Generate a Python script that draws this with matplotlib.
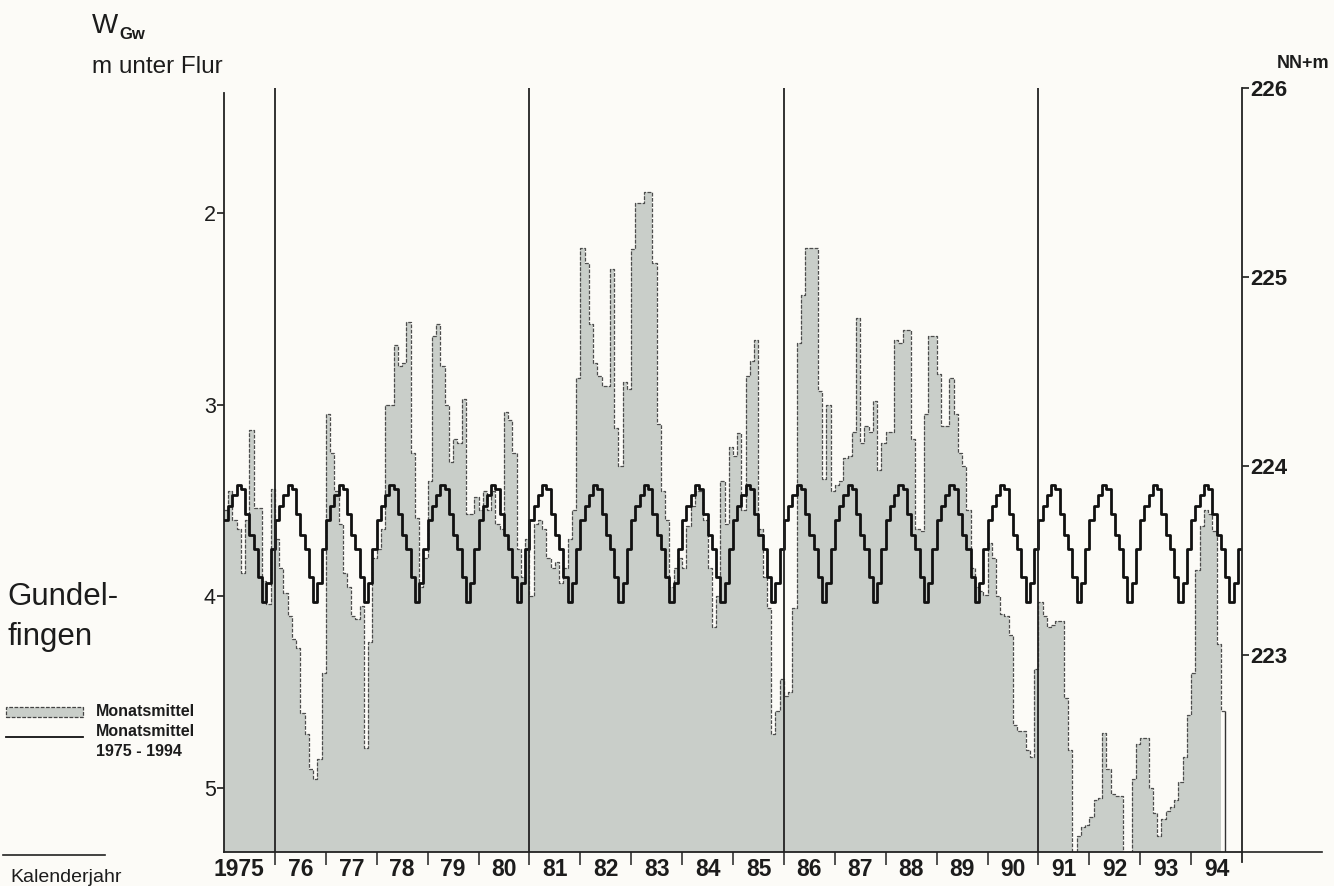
import numpy as np
import matplotlib.pyplot as plt
from matplotlib.lines import Line2D
from matplotlib.patches import Rectangle
import matplotlib.transforms as mtransforms

plt.rcParams['font.family'] = ['Liberation Sans', 'DejaVu Sans']

# Grundwasserstand Gundelfingen, Monatsmittel in m unter Flur (eine Zeile je Jahr)
years = np.arange(1975, 1995)
year_labels = ['1975'] + [str(y)[2:] for y in years[1:]]
nan = np.nan
monthly_depth = [
    [3.55, 3.45, 3.60, 3.65, 3.88, 3.60, 3.13, 3.54, 3.54, 3.92, 4.04, 3.44],  # 1975
    [3.70, 3.85, 3.98, 4.10, 4.22, 4.27, 4.61, 4.72, 4.90, 4.95, 4.85, 4.40],  # 1976
    [3.05, 3.25, 3.45, 3.62, 3.88, 3.95, 4.10, 4.12, 4.05, 4.79, 4.24, 3.80],  # 1977
    [3.75, 3.65, 3.00, 3.00, 2.69, 2.80, 2.78, 2.57, 3.25, 3.59, 3.95, 3.80],  # 1978
    [3.40, 2.64, 2.58, 2.80, 3.00, 3.30, 3.18, 3.20, 2.97, 3.57, 3.57, 3.48],  # 1979
    [3.55, 3.45, 3.55, 3.45, 3.62, 3.65, 3.04, 3.08, 3.25, 3.75, 3.90, 3.70],  # 1980
    [4.00, 3.62, 3.60, 3.65, 3.80, 3.85, 3.82, 3.93, 3.85, 3.70, 3.55, 2.86],  # 1981
    [2.18, 2.26, 2.58, 2.78, 2.85, 2.90, 2.90, 2.29, 3.12, 3.32, 2.88, 2.92],  # 1982
    [2.19, 1.95, 1.95, 1.89, 1.89, 2.26, 3.10, 3.45, 3.60, 3.95, 3.85, 3.80],  # 1983
    [3.85, 3.63, 3.53, 3.45, 3.45, 3.60, 3.85, 4.16, 4.00, 3.40, 3.62, 3.22],  # 1984
    [3.27, 3.15, 3.55, 2.85, 2.77, 2.66, 3.65, 3.90, 4.06, 4.72, 4.60, 4.43],  # 1985
    [4.52, 4.50, 4.06, 2.68, 2.43, 2.18, 2.18, 2.18, 2.93, 3.39, 3.00, 3.45],  # 1986
    [3.42, 3.40, 3.28, 3.27, 3.14, 2.55, 3.20, 3.11, 3.14, 2.98, 3.34, 3.20],  # 1987
    [3.14, 3.14, 2.66, 2.68, 2.61, 2.61, 3.18, 3.65, 3.66, 3.05, 2.64, 2.64],  # 1988
    [2.84, 3.11, 3.11, 2.86, 3.05, 3.25, 3.32, 3.55, 3.85, 3.95, 3.97, 3.99],  # 1989
    [3.72, 3.80, 4.00, 4.09, 4.10, 4.20, 4.67, 4.70, 4.70, 4.80, 4.84, 4.38],  # 1990
    [4.03, 4.10, 4.16, 4.15, 4.13, 4.13, 4.53, 4.80, 5.45, 5.25, 5.20, 5.19],  # 1991
    [5.15, 5.06, 5.05, 4.71, 4.90, 5.03, 5.04, 5.04, 5.45, 5.45, 4.95, 4.77],  # 1992
    [4.74, 4.74, 5.00, 5.13, 5.25, 5.16, 5.12, 5.10, 5.06, 4.97, 4.84, 4.62],  # 1993
    [4.40, 3.86, 3.63, 3.55, 3.57, 3.66, 4.25, 4.60, nan, nan, nan, nan],      # 1994
]
# langjaehriges Monatsmittel 1975 - 1994 (Jan..Dez)
seasonal_mean = [3.60, 3.53, 3.47, 3.42, 3.44, 3.57, 3.68, 3.75, 3.90, 4.03, 3.93, 3.75]
divider_years = [1976, 1981, 1986, 1991]
nn_ticks = [223, 224, 225, 226]
depth_ticks = [2, 3, 4, 5]

W, H = 1334, 886
bg = '#fcfbf7'
ink = '#1c1c1c'
fill_col = '#c9cec9'


def fx(x):
    return x / W


def fy(y):
    return 1 - y / H


fig = plt.figure(figsize=(W / 100, H / 100), dpi=100, facecolor=bg)
ax = fig.add_axes([fx(224), fy(852), (1242 - 224) / W, (852 - 88) / H])
ax.set_facecolor(bg)

vals = np.array(monthly_depth, dtype=float).ravel()
n = len(vals)
x_edges = years[0] + np.arange(n + 1) / 12.0
y_edges = np.append(vals, vals[-1])

y_bottom, y_top = 5.333, 1.348
ax.set_xlim(years[0], years[-1] + 1)
ax.set_ylim(y_bottom, y_top)

ax.fill_between(x_edges, y_edges, 7.0, step='post', color=fill_col, lw=0, zorder=1)
ax.step(x_edges, y_edges, where='post', color='#4d4d4d', lw=0.9,
        ls=(0, (3, 1.2)), zorder=2)
last = np.where(~np.isnan(vals))[0][-1]
ax.vlines(x_edges[last + 1], vals[last], 7.0, color='#333333', lw=1.0, zorder=2)

seas = np.tile(seasonal_mean, len(years))
ax.step(x_edges, np.append(seas, seas[-1]), where='post', color='#111111',
        lw=2.0, zorder=3)

for yr in divider_years:
    ax.axvline(yr, color='#222222', lw=1.3, zorder=4)

for s in ['top', 'right']:
    ax.spines[s].set_visible(False)
for s in ['left', 'bottom']:
    ax.spines[s].set_color('#222222')
    ax.spines[s].set_linewidth(1.3)
ax.spines['left'].set_bounds(y_bottom, 1.374)

ax.set_yticks(depth_ticks)
ax.set_yticklabels([str(t) for t in depth_ticks], fontsize=15.5, color=ink)
ax.tick_params(axis='y', direction='out', length=5, width=1.2, pad=1, colors=ink)

ax.set_xticks(years[1:])
ax.set_xticklabels([])
ax.tick_params(axis='x', direction='out', length=9, width=1.1, colors='#222222')

trans = mtransforms.blended_transform_factory(ax.transData, fig.transFigure)
for yr, lab in zip(years, year_labels):
    if yr == years[0]:
        ax.text(yr + 0.8, fy(870), lab, transform=trans, ha='right', va='center',
                fontsize=16.5, fontweight='bold', color=ink)
    else:
        ax.text(yr + 0.5, fy(870), lab, transform=trans, ha='center', va='center',
                fontsize=16.5, fontweight='bold', color=ink)

ax2 = ax.twinx()
ax2.set_ylim(221.96, 226.0)
ax2.set_yticks(nn_ticks)
ax2.set_yticklabels([str(t) for t in nn_ticks], fontsize=16, fontweight='bold', color=ink)
ax2.tick_params(axis='y', direction='out', length=5, width=1.2, pad=1, colors=ink)
for s in ['top', 'left', 'bottom']:
    ax2.spines[s].set_visible(False)
ax2.spines['right'].set_color('#222222')
ax2.spines['right'].set_linewidth(1.3)

# Beschriftungen
fig.text(fx(92), fy(33), 'W', fontsize=20, color=ink, va='baseline')
fig.text(fx(119), fy(39), 'Gw', fontsize=12, fontweight='bold', color=ink, va='baseline')
fig.text(fx(92), fy(73), 'm unter Flur', fontsize=17.5, color=ink, va='baseline')
fig.text(fx(1329), fy(68), 'NN+m', fontsize=13, fontweight='bold', color=ink,
         va='baseline', ha='right')
fig.text(fx(7), fy(605), 'Gundel-', fontsize=22.5, color=ink, va='baseline')
fig.text(fx(7), fy(645), 'fingen', fontsize=22.5, color=ink, va='baseline')
fig.text(fx(10), fy(878), 'Kalenderjahr', fontsize=14, color=ink, va='center')

# Legende
fig.patches.append(Rectangle((fx(6), fy(717)), (83 - 6) / W, 10 / H,
                             transform=fig.transFigure, facecolor=fill_col,
                             edgecolor='#444444', lw=0.9, ls=(0, (3, 1.2))))
fig.text(fx(96), fy(712), 'Monatsmittel', fontsize=11.5, fontweight='bold',
         color=ink, va='center')
fig.lines.append(Line2D([fx(6), fx(83)], [fy(737), fy(737)], transform=fig.transFigure,
                        color='#111111', lw=1.3))
fig.text(fx(96), fy(732), 'Monatsmittel', fontsize=11.5, fontweight='bold',
         color=ink, va='center')
fig.text(fx(96), fy(752), '1975 - 1994', fontsize=11.5, fontweight='bold',
         color=ink, va='center')

# Grundlinie links und rechts ueber die Achse hinaus
fig.lines.append(Line2D([fx(3), fx(105)], [fy(855), fy(855)], transform=fig.transFigure,
                        color='#222222', lw=1.2))
fig.lines.append(Line2D([fx(1242), fx(1322)], [fy(852), fy(852)], transform=fig.transFigure,
                        color='#222222', lw=1.2))
fig.lines.append(Line2D([fx(1242), fx(1242)], [fy(852), fy(862)], transform=fig.transFigure,
                        color='#222222', lw=1.3))

fig.savefig('out.png', dpi=100, facecolor=bg)
